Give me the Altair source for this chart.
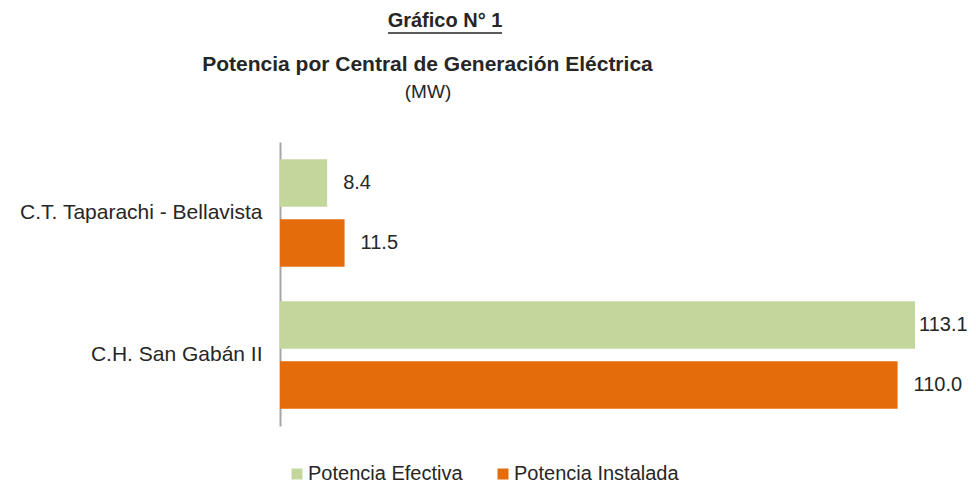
import altair as alt
import pandas as pd

centrales = ["C.T. Taparachi - Bellavista", "C.H. San Gabán II"]
series = ["Potencia Efectiva", "Potencia Instalada"]
efectiva = [8.4, 113.1]
instalada = [11.5, 110.0]
colores = ["#C3D69B", "#E46C0A"]

titulo = "Gráfico N° 1"
subtitulo = "Potencia por Central de Generación Eléctrica"
unidad = "(MW)"

rows = []
for c, e, i in zip(centrales, efectiva, instalada):
    rows.append({"central": c, "serie": series[0], "valor": e})
    rows.append({"central": c, "serie": series[1], "valor": i})
df = pd.DataFrame(rows)

FONT = "Liberation Sans, Arial, Helvetica, sans-serif"
TXT = "#262626"

base = alt.Chart(df).encode(
    y=alt.Y("central:N", sort=centrales,
            scale=alt.Scale(paddingInner=0, paddingOuter=0),
            axis=alt.Axis(title=None, ticks=False, domain=True, domainColor="#A6A6A6",
                          domainWidth=2, labelFontSize=21, labelFont=FONT,
                          labelColor=TXT, labelPadding=18, labelLimit=0, grid=False)),
    yOffset=alt.YOffset("serie:N", sort=series,
                        scale=alt.Scale(paddingInner=0.208, paddingOuter=0.2875)),
)

bars = base.mark_bar().encode(
    x=alt.X("valor:Q", scale=alt.Scale(zero=True, nice=False), axis=None),
    color=alt.Color("serie:N", sort=series,
                    scale=alt.Scale(domain=series, range=colores),
                    legend=alt.Legend(orient="none", legendX=7, legendY=322,
                                      direction="horizontal", title=None,
                                      symbolType="square", symbolSize=121,
                                      symbolOpacity=1, symbolStrokeWidth=0,
                                      labelFontSize=20, labelFont=FONT,
                                      labelColor=TXT, columnPadding=30,
                                      labelOffset=1, labelLimit=0, padding=0)),
)

lab_base = base.transform_joinaggregate(maxv="max(valor)")

labels = lab_base.transform_filter("datum.valor < datum.maxv").mark_text(
    align="left", baseline="middle", dx=16, fontSize=20, font=FONT, color=TXT
).encode(x=alt.X("valor:Q"), text=alt.Text("valor:Q", format=".1f"))

label_max = lab_base.transform_filter("datum.valor >= datum.maxv").mark_text(
    align="left", baseline="middle", dx=4, fontSize=20, font=FONT, color=TXT
).encode(x=alt.X("valor:Q"), text=alt.Text("valor:Q", format=".1f"))

tdf = pd.DataFrame({"a": [titulo], "b": [subtitulo], "c": [unidad]})
tbase = alt.Chart(tdf)
t1 = tbase.mark_text(fontSize=20, fontWeight="bold", font=FONT, color=TXT,
                     align="center", baseline="middle").encode(
    text="a:N", x=alt.value(165), y=alt.value(-121))
uline = tbase.mark_rule(color=TXT, strokeWidth=1.6).encode(
    x=alt.value(108), x2=alt.value(222), y=alt.value(-109))
t2 = tbase.mark_text(fontSize=21, fontWeight="bold", font=FONT, color=TXT,
                     align="center", baseline="middle").encode(
    text="b:N", x=alt.value(147.5), y=alt.value(-77))
t3 = tbase.mark_text(fontSize=19, font=FONT, color=TXT,
                     align="center", baseline="middle").encode(
    text="c:N", x=alt.value(148), y=alt.value(-50))

chart = alt.layer(bars, labels, label_max, t1, uline, t2, t3).properties(
    width=635, height=284,
    background="white",
    autosize=alt.AutoSizeParams(type="none"),
    padding={"left": 272, "top": 134, "right": 53, "bottom": 60},
).configure_view(strokeWidth=0, stroke=None)

chart.save("out.html", embed_options={"renderer": "svg", "actions": False})
